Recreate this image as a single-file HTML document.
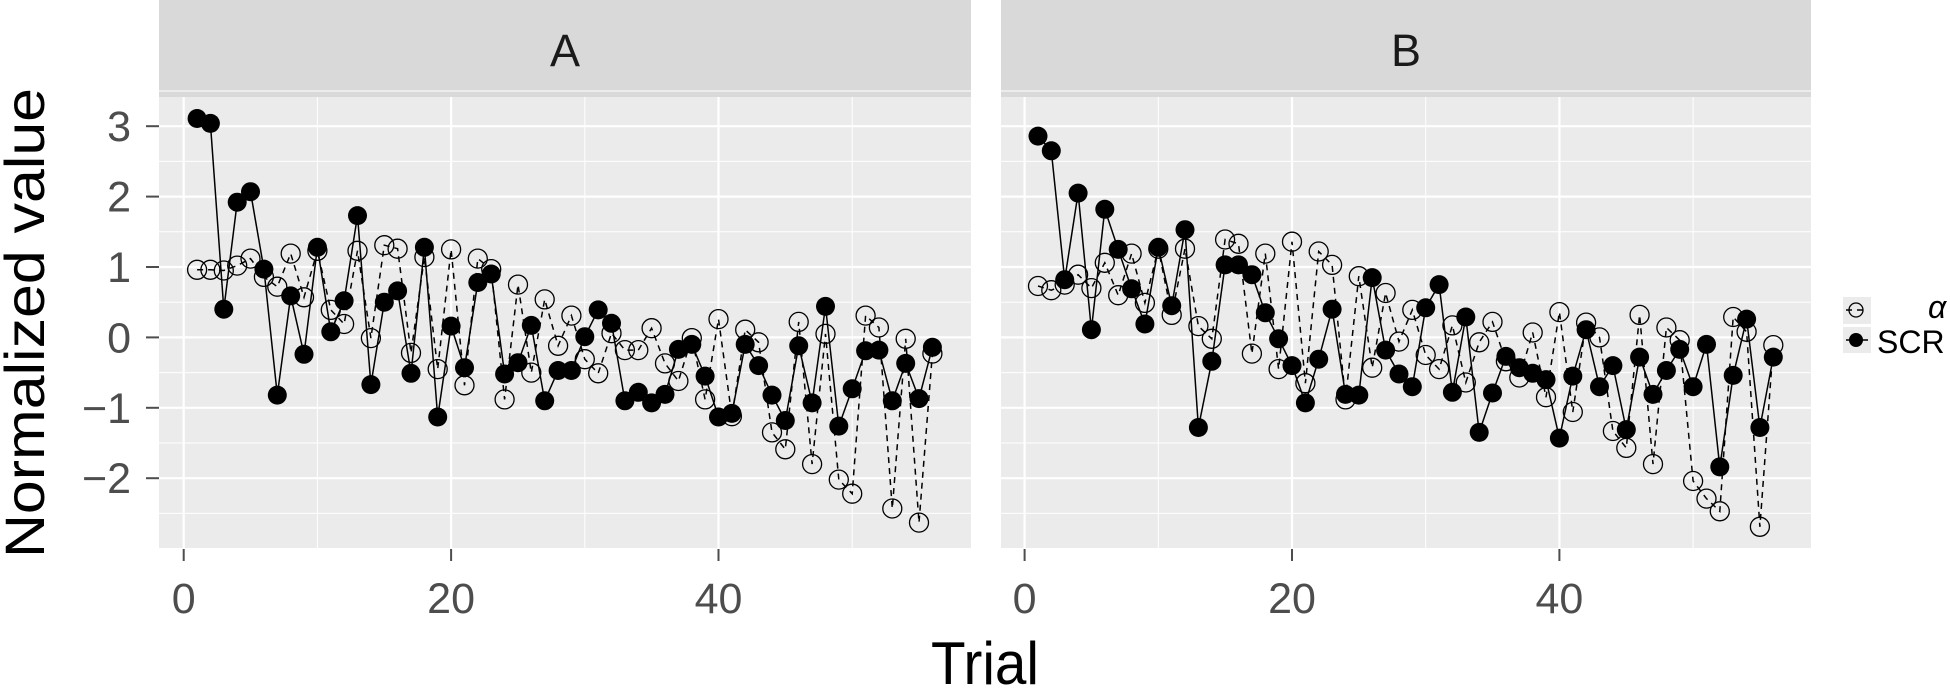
<!DOCTYPE html>
<html><head><meta charset="utf-8"><style>html,body{margin:0;padding:0;background:#fff}svg{display:block}</style></head>
<body>
<svg id="s" width="1950" height="689" xmlns="http://www.w3.org/2000/svg" font-family="'Liberation Sans', sans-serif"></svg>
<script>
var A_s=[3.11,3.04,0.40,1.92,2.07,0.97,-0.82,0.59,-0.24,1.28,0.08,0.52,1.73,-0.67,0.5,0.66,-0.51,1.28,-1.13,0.16,-0.43,0.78,0.9,-0.52,-0.36,0.17,-0.9,-0.47,-0.47,0.01,0.39,0.2,-0.9,-0.78,-0.93,-0.81,-0.17,-0.1,-0.55,-1.13,-1.08,-0.1,-0.4,-0.82,-1.18,-0.12,-0.93,0.44,-1.26,-0.73,-0.19,-0.18,-0.9,-0.37,-0.87,-0.14];
var A_a=[0.96,0.96,0.95,1.02,1.12,0.86,0.72,1.19,0.57,1.23,0.39,0.19,1.23,-0.01,1.31,1.26,-0.22,1.14,-0.45,1.25,-0.68,1.12,0.97,-0.88,0.75,-0.5,0.54,-0.12,0.31,-0.31,-0.51,0.06,-0.18,-0.18,0.13,-0.37,-0.62,-0.01,-0.88,0.26,-1.12,0.11,-0.07,-1.35,-1.59,0.22,-1.8,0.05,-2.02,-2.22,0.31,0.14,-2.43,-0.02,-2.63,-0.23];
var B_s=[2.86,2.65,0.82,2.05,0.11,1.82,1.25,0.69,0.19,1.28,0.45,1.53,-1.28,-0.34,1.03,1.03,0.89,0.35,-0.02,-0.4,-0.93,-0.31,0.4,-0.81,-0.82,0.85,-0.18,-0.52,-0.7,0.42,0.75,-0.78,0.29,-1.35,-0.79,-0.27,-0.43,-0.51,-0.6,-1.43,-0.55,0.11,-0.7,-0.4,-1.31,-0.28,-0.81,-0.47,-0.17,-0.7,-0.1,-1.84,-0.54,0.26,-1.28,-0.28];
var B_a=[0.73,0.67,0.75,0.89,0.7,1.06,0.6,1.19,0.49,1.26,0.32,1.26,0.16,-0.02,1.39,1.33,-0.23,1.19,-0.45,1.36,-0.65,1.22,1.03,-0.88,0.87,-0.43,0.63,-0.06,0.39,-0.25,-0.45,0.17,-0.64,-0.07,0.22,-0.34,-0.57,0.07,-0.85,0.36,-1.06,0.21,0,-1.33,-1.57,0.32,-1.8,0.14,-0.04,-2.04,-2.29,-2.47,0.29,0.08,-2.69,-0.11];
var h='';
function Y(v){return 337.4-70.4*v;}
function panel(x0,x1,zx,S,Aa,lab){
  var px=13.37;
  h+='<rect x="'+x0+'" y="0" width="'+(x1-x0)+'" height="97" fill="#d9d9d9"/>';
  h+='<rect x="'+x0+'" y="97" width="'+(x1-x0)+'" height="451" fill="#ebebeb"/>';
  h+='<text x="'+((x0+x1)/2)+'" y="66" font-size="45" text-anchor="middle" fill="#1a1a1a">'+lab+'</text>';
  for(var v=-2.5;v<=3.5;v+=0.5){var w=(Math.abs(v%1)<1e-6)?2.2:1;h+='<line x1="'+x0+'" x2="'+x1+'" y1="'+Y(v)+'" y2="'+Y(v)+'" stroke="#fff" stroke-width="'+w+'"/>';}
  for(var t=0;t<=50;t+=10){var X=zx+px*t;var w=(t%20==0)?2.2:1;h+='<line x1="'+X+'" x2="'+X+'" y1="97" y2="548" stroke="#fff" stroke-width="'+w+'"/>';}
  for(var t=0;t<=40;t+=20){var X=zx+px*t;h+='<line x1="'+X+'" x2="'+X+'" y1="549" y2="561" stroke="#4d4d4d" stroke-width="2"/><text x="'+X+'" y="613" font-size="43" text-anchor="middle" fill="#4d4d4d">'+t+'</text>';}
  var pa='',ps='';
  for(var i=0;i<56;i++){var X=zx+px*(i+1);pa+=(i?'L':'M')+X.toFixed(1)+' '+Y(Aa[i]).toFixed(1);ps+=(i?'L':'M')+X.toFixed(1)+' '+Y(S[i]).toFixed(1);}
  h+='<path d="'+pa+'" fill="none" stroke="#000" stroke-width="1.5" stroke-dasharray="6,5"/>';
  h+='<path d="'+ps+'" fill="none" stroke="#000" stroke-width="1.5"/>';
  for(var i=0;i<56;i++){var X=zx+px*(i+1);h+='<circle cx="'+X.toFixed(1)+'" cy="'+Y(Aa[i]).toFixed(1)+'" r="9.5" fill="none" stroke="#000" stroke-width="1.3"/>';}
  for(var i=0;i<56;i++){var X=zx+px*(i+1);h+='<circle cx="'+X.toFixed(1)+'" cy="'+Y(S[i]).toFixed(1)+'" r="9.5" fill="#000"/>';}
}
panel(159,971,183.7,A_s,A_a,'A');
panel(1001,1811,1024.6,B_s,B_a,'B');
for(var v=-2;v<=3;v++){h+='<line x1="146" x2="159" y1="'+Y(v)+'" y2="'+Y(v)+'" stroke="#4d4d4d" stroke-width="2"/><text x="131" y="'+(Y(v)+15)+'" font-size="43" text-anchor="end" fill="#4d4d4d">'+(v<0?'\u2212'+(-v):v)+'</text>';}
h+='<text transform="translate(44,323) rotate(-90)" font-size="56" text-anchor="middle" textLength="470" lengthAdjust="spacingAndGlyphs" fill="#000">Normalized value</text>';
h+='<text x="985" y="684" font-size="60" text-anchor="middle" textLength="108" lengthAdjust="spacingAndGlyphs" fill="#000">Trial</text>';
h+='<rect x="1843" y="297" width="28" height="27" fill="#ebebeb"/><rect x="1843" y="327" width="28" height="26" fill="#ebebeb"/>';
h+='<line x1="1846" x2="1868" y1="310" y2="310" stroke="#000" stroke-width="1.5" stroke-dasharray="6,5"/><circle cx="1856" cy="310" r="7" fill="none" stroke="#000" stroke-width="1.3"/>';
h+='<line x1="1846" x2="1868" y1="340" y2="340" stroke="#000" stroke-width="1.5"/><circle cx="1856" cy="340" r="7" fill="#000"/>';
h+='<text x="1928" y="318" font-size="32" font-style="italic" fill="#000">α</text><text x="1877" y="353" font-size="32" fill="#000">SCR</text>';
document.getElementById('s').innerHTML=h;
</script>
</body></html>
